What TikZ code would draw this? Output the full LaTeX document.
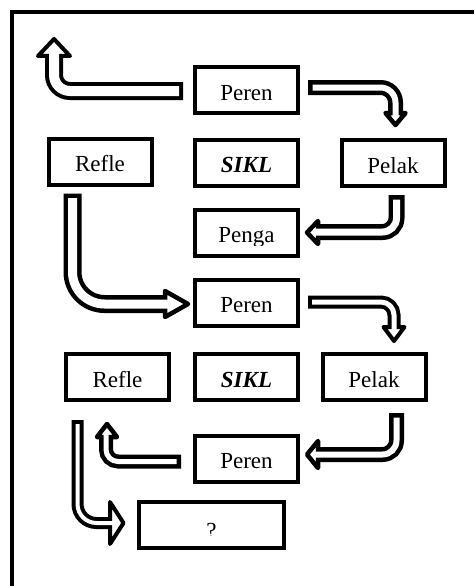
\documentclass[tikz,border=0pt]{standalone}
\usepackage{fontspec}
\setmainfont{Liberation Serif}
\usetikzlibrary{calc}
\tikzset{
  box/.style={draw, line width=4pt, minimum width=103pt, minimum height=46pt,
    inner sep=0pt, text height=20pt, text depth=0pt, font=\fontsize{23}{27}\selectfont},
  lbl/.style={inner sep=0pt, anchor=base, font=\fontsize{23}{27}\selectfont},
}
% #1 outer width, #2 inner width, #3 border, #4 radius, #5 shaft path, #6 head polygon
\newcommand\hollowarrow[6]{%
  \draw[line width=#1pt, rounded corners=#4pt, line cap=butt] #5;
  \draw[line width=#3pt, fill=white, line join=round] #6 -- cycle;
  \draw[white, line width=#2pt, rounded corners=#4pt, line cap=butt,
        shorten <=#3pt, shorten >=-#3pt] #5;
}
\begin{document}
\begin{tikzpicture}[x=1pt, y=-1pt]
\useasboundingbox (0,0) rectangle (474,586);
% frame
\draw[line width=4.5pt] (474,12) -- (12,12) -- (12,586);

% boxes
\node[box] (peren1) at (246.5,90) {Peren};
\node[box] (refle1) at (100,161.5) {Refle};
\node[box] (sikl1) at (246.5,162.5) {\textbf{\textit{SIKL}}};
\node[box] (pelak1) at (393,163) {Pelak};
\node[box] (penga) at (246.5,232.5) {};
\node[box] (peren2) at (246.5,302.5) {Peren};
\node[box] (refle2) at (117.5,377) {Refle};
\node[box] (sikl2) at (246.5,377) {\textbf{\textit{SIKL}}};
\node[box] (pelak2) at (374,377) {Pelak};
\node[box] (peren3) at (246.5,458.5) {Peren};
\node[box, minimum width=145pt] (q) at (211.5,525) {};

% clipped texts
\begin{scope}
  \clip ($(penga.center)+(-50,-22)$) rectangle ($(penga.center)+(50,12.5)$);
  \node[lbl] (pengatxt) at ($(penga.center)+(0,10)$) {Penga};
\end{scope}
\begin{scope}
  \clip ($(q.center)+(-70,-22)$) rectangle ($(q.center)+(70,10)$);
  \node[lbl] (qtxt) at ($(q.center)+(0,13)$) {?};
\end{scope}

% arrow end points
\coordinate (aEnd) at (54,56);
\coordinate (bEnd) at (395.5,113);
\coordinate (cEnd) at (318,232);
\coordinate (dEnd) at (165,304);
\coordinate (eEnd) at (394,327);
\coordinate (fEnd) at (318,454.5);
\coordinate (gEnd) at (106,437);
\coordinate (hEnd) at (110,523);

% A: Peren1 -> up-left
\hollowarrow{18}{10}{4}{16}{($(peren1.west)+(-10,1)$) -| (aEnd)}
  {(38,56) -- (54,39) -- (70,56)}
% B: Peren1 -> Pelak1
\hollowarrow{15}{6}{4.5}{15}{($(peren1.east)+(8,-2.5)$) -| (bEnd)}
  {(385.5,113) -- (395.5,125) -- (405.5,113)}
% C: Pelak1 -> Penga
\hollowarrow{16}{7}{4.5}{14}{($(pelak1.south)+(3.5,7)$) |- (cEnd)}
  {(318,221) -- (307,232.5) -- (318,244)}
% D: Refle1 -> Peren2
\hollowarrow{18}{9}{4.5}{32}{($(refle1.south)+(-27.5,7)$) |- (dEnd)}
  {(165,291) -- (188,304) -- (165,317)}
% E: Peren2 -> Pelak2
\hollowarrow{13}{5}{4}{13}{($(peren2.east)+(8,-0.5)$) -| (eEnd)}
  {(383.5,327) -- (394,341) -- (404.5,327)}
% F: Pelak2 -> Peren3
\hollowarrow{15}{6}{4.5}{14}{($(pelak2.south)+(22.5,11)$) |- (fEnd)}
  {(318,441) -- (307,454.5) -- (318,468)}
% G: Peren3 -> up towards Refle2
\hollowarrow{14}{5}{4.5}{12}{($(peren3.west)+(-12,3)$) -| (gEnd)}
  {(97,437) -- (107,424) -- (117,437)}
% H: Refle2 -> ?
\hollowarrow{12}{4}{4}{19}{($(refle2.south)+(-40,18)$) |- (hEnd)}
  {(110,502) -- (123.5,523) -- (110,544)}
\end{tikzpicture}
\end{document}
